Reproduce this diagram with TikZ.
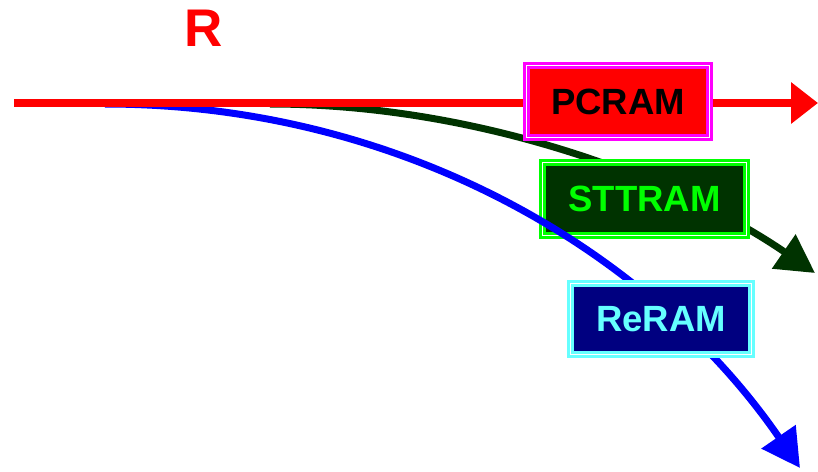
\documentclass[tikz,border=0pt]{standalone}
\usepackage{fontspec}
\setmainfont{Liberation Sans}
\usetikzlibrary{arrows.meta}
\definecolor{pcfill}{RGB}{255,0,0}
\definecolor{pcborder}{RGB}{255,0,255}
\definecolor{stfill}{RGB}{0,51,0}
\definecolor{stborder}{RGB}{0,255,0}
\definecolor{refill}{RGB}{0,0,128}
\definecolor{reborder}{RGB}{102,255,255}
\definecolor{bluecurve}{RGB}{0,0,255}
\tikzset{
  membox/.style={draw=#1, double=white, line width=2.3pt, double distance=1.6pt,
     inner sep=0pt, font=\fontsize{36.5}{40}\selectfont\bfseries},
  curve/.style={line width=7pt, -{Triangle[length=38pt,width=40pt]}}
}
\begin{document}
\begin{tikzpicture}[x=1pt,y=-1pt]
\useasboundingbox (0,0) rectangle (818,471);
% coordinates
\coordinate (rs) at (14,103);
\coordinate (re) at (818,103);
\coordinate (gs) at (270,104);
\coordinate (ge) at (815,273);
\coordinate (bs) at (105,104);
\coordinate (be) at (800,468);
% green curve
\draw[curve, color=stfill] (gs) .. controls (480,104) and (680,180) .. (ge);
% STTRAM box
\node[membox=stborder, fill=stfill, text=stborder, minimum width=204pt, minimum height=73pt] (st) at (644.5,199) {STTRAM};
% blue curve
\draw[curve, color=bluecurve] (bs) .. controls (400,104) and (650,250) .. (be);
% red line
\draw[line width=8pt, color=pcfill, -{Triangle[length=27pt,width=40pt]}] (rs) -- (re);
% PCRAM box
\node[membox=pcborder, fill=pcfill, text=black, minimum width=183pt, minimum height=72pt] (pc) at (618,101.5) {PCRAM};
% ReRAM box
\node[membox=reborder, fill=refill, text=reborder, minimum width=181pt, minimum height=71pt] (rr) at (661,319) {ReRAM};
% R label
\node[text=pcfill, font=\fontsize{53}{56}\selectfont\bfseries] (rlab) at (203.5,28) {R};
\end{tikzpicture}
\end{document}
